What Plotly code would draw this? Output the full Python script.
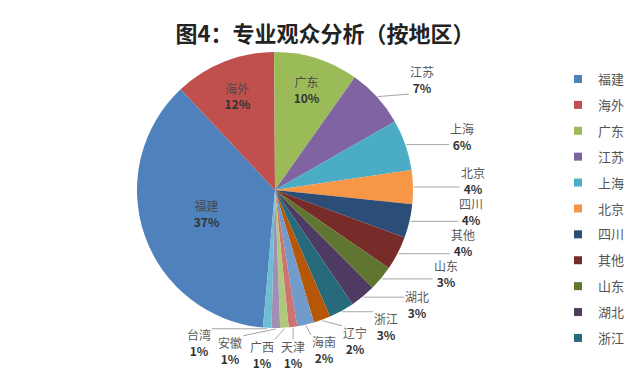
import math
import plotly.graph_objects as go

regions = ["福建", "海外", "广东", "江苏", "上海", "北京", "四川", "其他", "山东",
           "湖北", "浙江", "辽宁", "海南", "天津", "广西", "安徽", "台湾"]
shares = [37, 12, 10, 7, 6, 4, 4, 4, 3, 3, 3, 2, 2, 1, 1, 1, 1]
colors = ["#4F81BD", "#C0504D", "#9BBB59", "#8064A2", "#4BACC6", "#F79646",
          "#2C4D75", "#772C2A", "#5F7530", "#4D3B62", "#276A7C", "#B65708",
          "#729ACA", "#CD7371", "#AFC97A", "#A08EB5", "#6FBDD1"]
legend_count = 11
inside_count = 3
title = "图4：专业观众分析（按地区）"

# ---- layout constants (screen pixels; the page body adds an 8px offset) ----
SCREEN_W, SCREEN_H, OFF = 640, 379, 8
W, H = SCREEN_W - OFF, SCREEN_H - OFF
CX, CY, R = 275, 190, 138   # pie centre / radius on screen
LA, LB = 198, 165           # label ellipse radii
BW, BH = 31, 31             # label box size used for spacing
ROTATION = 185
FONT = "Noto Sans CJK SC"


def fx(x):
    return (x - OFF) / W


def fy(y):
    return 1 - (y - OFF) / H


total = sum(shares)
pct = [round(v / total * 100) for v in shares]

positions = ["inside" if i < inside_count else "none" for i in range(len(regions))]

fig = go.Figure()
fig.add_trace(go.Pie(
    labels=regions,
    values=shares,
    text=[f"{p}%" for p in pct],
    texttemplate="<span style='color:#4a4a4a'>%{label}</span><br><b>%{text}</b>",
    textposition=positions,
    insidetextorientation="horizontal",
    textfont=dict(family=FONT, size=12, color="#333333"),
    marker=dict(colors=colors, line=dict(width=0)),
    sort=False,
    direction="clockwise",
    rotation=ROTATION,
    showlegend=False,
    hoverinfo="label+percent",
    domain=dict(x=[fx(CX - R), fx(CX + R)], y=[fy(CY + R), fy(CY - R)]),
))

# ---- outside labels: mid angle of each slice, spread apart until boxes do not touch ----
mids = []
cum = 0
for v in shares:
    mids.append(ROTATION + (cum + v / 2) / total * 360)
    cum += v

out_idx = list(range(inside_count, len(regions)))
ang = [mids[k] for k in out_idx]


def label_pos(a):
    t = math.radians(a)
    return CX + LA * math.sin(t), CY - LB * math.cos(t)


for _ in range(6000):
    moved = False
    for k in range(len(ang)):
        for m in range(k + 1, len(ang)):
            x1, y1 = label_pos(ang[k])
            x2, y2 = label_pos(ang[m])
            if abs(x1 - x2) < BW and abs(y1 - y2) < BH:
                ang[k] -= 0.1
                ang[m] += 0.1
                moved = True
    if not moved:
        break

for n, k in enumerate(out_idx):
    lx, ly = label_pos(ang[n])
    fig.add_annotation(
        x=fx(lx), y=fy(ly), xref="paper", yref="paper",
        xanchor="center", yanchor="middle",
        text=f"<span style='color:#5a5a5a'>{regions[k]}</span><br><b>{pct[k]}%</b>",
        showarrow=False, align="center",
        font=dict(family=FONT, size=12, color="#333333"),
    )
    t = math.radians(mids[k])
    ax, ay = CX + (R + 1) * math.sin(t), CY - (R + 1) * math.cos(t)
    px = min(max(ax, lx - 13), lx + 13)
    py = min(max(ay, ly - 15), ly + 15)
    if math.hypot(px - ax, py - ay) > 9:
        fig.add_shape(type="line", xref="paper", yref="paper",
                      x0=fx(ax), y0=fy(ay), x1=fx(px), y1=fy(py),
                      line=dict(color="#a6a6a6", width=1))

for i in range(legend_count):
    fig.add_trace(go.Scatter(
        x=[None], y=[None], mode="markers",
        marker=dict(symbol="square", size=8, color=colors[i]),
        name=regions[i], legendgroup=regions[i], showlegend=True,
    ))

fig.update_layout(
    width=W, height=H,
    margin=dict(l=0, r=0, t=0, b=0),
    paper_bgcolor="white", plot_bgcolor="white",
    title=dict(text=f"<b>{title}</b>", x=fx(325), xanchor="center", y=fy(34), yanchor="middle",
               font=dict(family=FONT, size=22, color="#222222")),
    xaxis=dict(visible=False), yaxis=dict(visible=False),
    legend=dict(x=fx(558), y=fy(208.5), xanchor="left", yanchor="middle",
                font=dict(family=FONT, size=13, color="#555555"),
                tracegroupgap=6, traceorder="grouped", maxheight=H,
                itemwidth=30, bgcolor="rgba(0,0,0,0)"),
)

fig.write_html("out.html")
